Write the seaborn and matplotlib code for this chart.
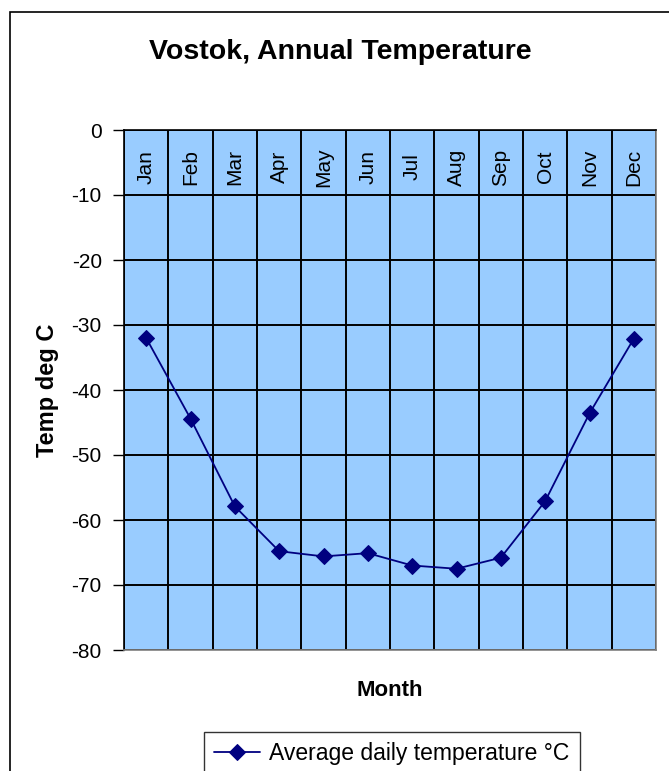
import numpy as np
import pandas as pd
import matplotlib.pyplot as plt
import seaborn as sns
from matplotlib.patches import Rectangle

# data
months = ["Jan", "Feb", "Mar", "Apr", "May", "Jun",
          "Jul", "Aug", "Sep", "Oct", "Nov", "Dec"]
temps = [-32.0, -44.4, -57.9, -64.8, -65.6, -65.1,
         -67.0, -67.5, -65.8, -57.1, -43.6, -32.1]
yticks = [0, -10, -20, -30, -40, -50, -60, -70, -80]

sns.set_style("white")
plt.rcParams['font.family'] = ['Liberation Sans', 'DejaVu Sans']
plt.rcParams['axes.unicode_minus'] = False
for key in ['text.color', 'axes.labelcolor', 'xtick.color', 'ytick.color']:
    plt.rcParams[key] = 'black'

df = pd.DataFrame({"pos": np.arange(len(months)), "temp": temps})

fig = plt.figure(figsize=(6.69, 7.71), dpi=100)
ax = fig.add_axes([124 / 669, 121 / 771, 532 / 669, 520 / 771])
ax.set_facecolor("#99CCFF")

sns.lineplot(data=df, x="pos", y="temp", ax=ax, color="#000080",
             marker="D", markersize=8, markeredgecolor="#000080",
             linewidth=1.3, sort=False, label="Average daily temperature °C")

ax.set_xlim(-0.5, len(months) - 0.5)
ax.set_ylim(-80, 0)
ax.set_yticks(yticks)
ax.set_yticklabels([str(v) for v in yticks], fontsize=15)

# category boundaries as vertical grid
ax.set_xticks(np.arange(-0.5, len(months), 1.0))
ax.set_xticklabels([])
ax.tick_params(axis='x', length=0)
ax.tick_params(axis='y', length=8, width=1, color='black', pad=8, left=True)
ax.grid(True, color='black', linewidth=1.4)
ax.set_axisbelow(True)

for i, m in enumerate(months):
    ax.text(i, -5.7, m, rotation=90, ha='center', va='center', fontsize=15)

for side in ['left', 'top']:
    ax.spines[side].set_color('black')
for side in ['right', 'bottom']:
    ax.spines[side].set_color('#808080')
for s in ax.spines.values():
    s.set_linewidth(1.2)

ax.set_xlabel("Month", fontsize=16, fontweight='bold')
ax.xaxis.label.set_va('center')
ax.xaxis.set_label_coords(0.5, -0.077)
ax.set_ylabel("Temp deg C", fontsize=17, fontweight='bold')
ax.yaxis.label.set_va('center')
ax.yaxis.set_label_coords(-0.143, 0.5)

fig.text(0.508, 1 - 52 / 771, "Vostok, Annual Temperature",
         ha='center', va='center', fontsize=20.5, fontweight='bold')

leg = ax.legend(loc='upper left', bbox_to_anchor=(204 / 669, 1 - 732 / 771),
                bbox_transform=fig.transFigure, fontsize=16.5, frameon=True,
                fancybox=False, edgecolor='black', handlelength=2.0,
                handletextpad=0.4, borderaxespad=0, borderpad=0.45)
leg.get_frame().set_linewidth(1.0)

# outer chart border, clipped by the picture edges
fig.patches.append(Rectangle((10 / 669, -0.05), 1.2, 1 - 12 / 771 + 0.05,
                             transform=fig.transFigure, fill=False,
                             edgecolor='black', linewidth=1.2))

fig.savefig("out.png", dpi=100, facecolor='white')
